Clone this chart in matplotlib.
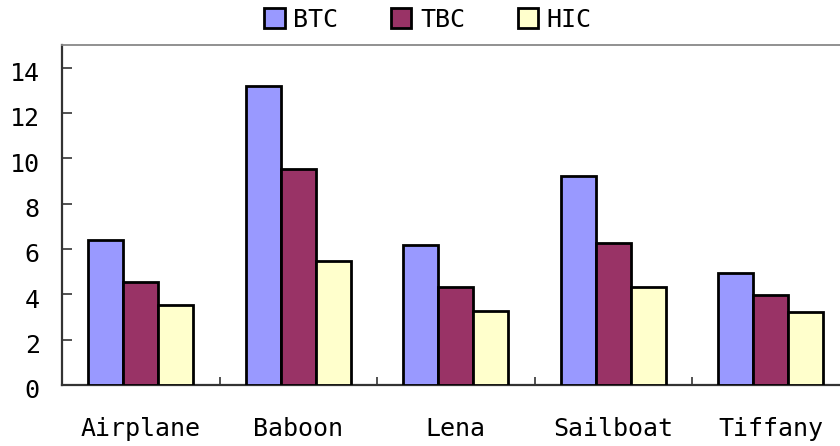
import numpy as np
import matplotlib
matplotlib.use('Agg')
import matplotlib.pyplot as plt
import matplotlib.transforms as mtransforms
from matplotlib.ticker import FixedLocator, NullFormatter

plt.rcParams['font.family'] = ['DejaVu Sans Mono', 'Liberation Mono']

images = ['Airplane', 'Baboon', 'Lena', 'Sailboat', 'Tiffany']
series = ['BTC', 'TBC', 'HIC']
btc = [6.4, 13.18, 6.18, 9.23, 4.93]
tbc = [4.56, 9.53, 4.34, 6.26, 3.97]
hic = [3.55, 5.49, 3.27, 4.31, 3.21]
colors = ['#9999FF', '#993366', '#FFFFCC']

FS = 18

fig = plt.figure(figsize=(8.4, 4.46), dpi=100)
ax = fig.add_axes([62/840, 61/446, 787.5/840, 340/446])

x = np.arange(len(images))
w = 1 / 4.5
handles = []
for i, (vals, c, lab) in enumerate(zip([btc, tbc, hic], colors, series)):
    h = ax.bar(x + (i - 1) * w, vals, w, color=c, edgecolor='black',
               linewidth=2.0, label=lab, zorder=3)
    handles.append(h)

ax.set_xlim(-0.5, len(images) - 0.5)
ax.set_ylim(0, 15)
ax.set_yticks(np.arange(0, 15, 2))
ax.tick_params(axis='y', direction='in', length=7, width=1.2, color='#333333',
               pad=16, labelsize=FS)
# labels sit a little below their ticks, as in the original
shift = mtransforms.ScaledTranslation(0, -4/100, fig.dpi_scale_trans)
for t in ax.get_yticklabels():
    t.set_transform(t.get_transform() + shift)

ax.set_xticks(x)
ax.set_xticklabels(images)
ax.tick_params(axis='x', which='major', length=0, pad=23, labelsize=FS)
ax.xaxis.set_minor_locator(FixedLocator(np.arange(0.5, len(images) - 0.5, 1)))
ax.xaxis.set_minor_formatter(NullFormatter())
ax.tick_params(axis='x', which='minor', direction='in', length=6, width=1.2,
               color='#333333')

for s in ['left', 'bottom']:
    ax.spines[s].set_color('#333333')
    ax.spines[s].set_linewidth(1.6)
ax.spines['top'].set_color('#888888')
ax.spines['top'].set_linewidth(1.3)
ax.spines['right'].set_visible(False)

fig.legend(handles=handles, labels=series, loc='center',
           bbox_to_anchor=(428/840, 1 - 20/446), ncol=3, frameon=False,
           fontsize=FS, handlelength=0.82, handleheight=0.86,
           handletextpad=0.35, columnspacing=2.1, borderpad=0)

fig.savefig('out.png', dpi=100)
